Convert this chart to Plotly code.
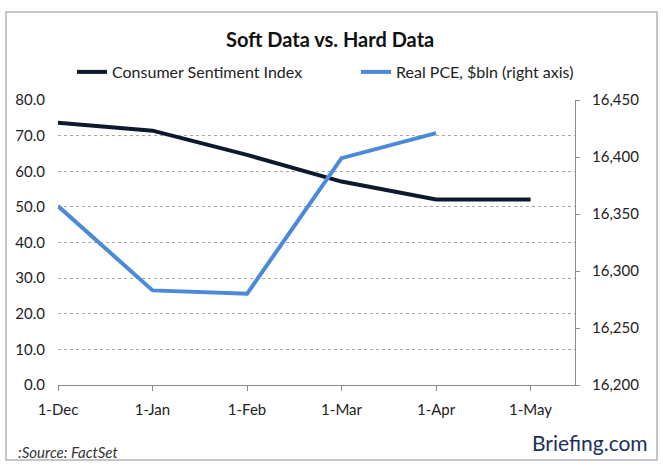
import plotly.graph_objects as go

categories = ["1-Dec", "1-Jan", "1-Feb", "1-Mar", "1-Apr", "1-May"]
sentiment = [73.6, 71.4, 64.6, 57.1, 52.1, 52.1]
real_pce = [16357, 16283, 16280, 16399, 16421]
left_ticks = [0, 10, 20, 30, 40, 50, 60, 70, 80]
right_ticks = [16200, 16250, 16300, 16350, 16400, 16450]

xpos = list(range(len(categories)))
FONT = "Lato"
PL, PR, PT, PB = 58, 575, 100, 385
PW, PH = PR - PL, PB - PT


def px_x(x):
    return (x - PL) / PW


def px_y(y):
    return (PB - y) / PH


fig = go.Figure()
fig.add_trace(go.Scatter(
    x=xpos, y=sentiment, mode="lines", name="Consumer Sentiment Index",
    line=dict(color="#0d1a2c", width=4), yaxis="y", legend="legend"))
fig.add_trace(go.Scatter(
    x=xpos[:len(real_pce)], y=real_pce, mode="lines", name="Real PCE, $bln (right axis)",
    line=dict(color="#4a8ad8", width=4), yaxis="y2", legend="legend2"))

legend_common = dict(orientation="h", yanchor="middle", y=px_y(72),
                     font=dict(size=16, color="#222222"), bgcolor="rgba(0,0,0,0)",
                     xanchor="left")

fig.update_layout(
    width=663, height=468,
    margin=dict(l=PL, r=663 - PR, t=PT, b=468 - PB),
    paper_bgcolor="white", plot_bgcolor="white",
    font=dict(family=FONT, size=15, color="#222222"),
    title=dict(text="<b>Soft Data vs. Hard Data</b>", x=0.498, xanchor="center",
               y=1 - 40 / 468, yanchor="middle", font=dict(size=20, color="#111111")),
    showlegend=True,
    legend=dict(x=px_x(72), **legend_common),
    legend2=dict(x=px_x(356), **legend_common),
    xaxis=dict(range=[0, 5.47], tickvals=xpos, ticktext=categories,
               showgrid=False, zeroline=False, showline=True, linecolor="#8a8a8a",
               linewidth=1, ticks="outside", ticklen=5, tickcolor="#8a8a8a",
               ticklabelstandoff=6, tickfont=dict(size=15)),
    yaxis=dict(range=[0, 80], tickvals=left_ticks,
               ticktext=[f"{v:.1f}" for v in left_ticks],
               showgrid=True, gridcolor="#a8a8a8", griddash="dot", gridwidth=1,
               zeroline=False, showline=False, ticks="", ticklabelstandoff=12,
               tickfont=dict(size=15)),
    yaxis2=dict(range=[16200, 16450], tickvals=right_ticks,
                ticktext=[f"{v:,}" for v in right_ticks],
                overlaying="y", side="right", showgrid=False, zeroline=False,
                showline=True, linecolor="#8a8a8a", linewidth=1,
                ticks="outside", ticklen=4, tickcolor="#8a8a8a",
                ticklabelstandoff=9, tickfont=dict(size=15)),
)

fig.add_shape(type="rect", xref="paper", yref="paper",
              x0=px_x(6), x1=px_x(657), y0=px_y(460), y1=px_y(12),
              line=dict(color="#b4b4b4", width=1.5), layer="above")

fig.add_annotation(text="<i>:Source: FactSet</i>", xref="paper", yref="paper",
                   x=px_x(16), xanchor="left", y=px_y(452), yanchor="middle",
                   showarrow=False, font=dict(size=15, color="#333333"))
fig.add_annotation(text="Briefing.com", xref="paper", yref="paper",
                   x=px_x(650), xanchor="right", y=px_y(442), yanchor="middle",
                   showarrow=False, font=dict(size=21, color="#1b2f5e", family=FONT))

fig.write_html("out.html", config={"displayModeBar": False},
               post_script=["document.body.style.margin='0px';"])
